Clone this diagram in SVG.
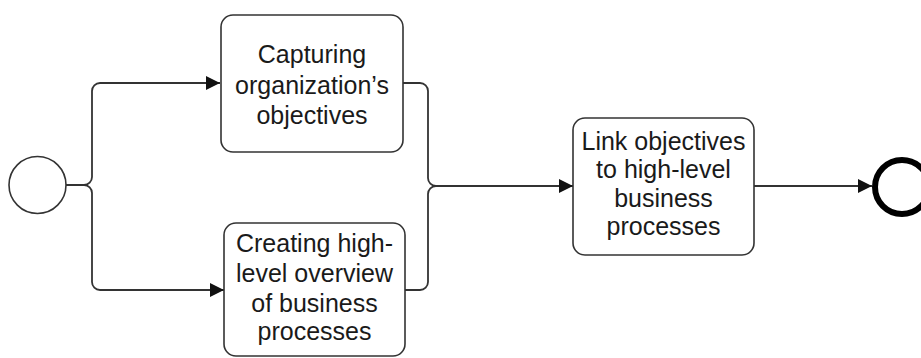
<svg xmlns="http://www.w3.org/2000/svg" width="921" height="358" viewBox="0 0 921 358">
  <style>
    .task { fill: #ffffff; stroke: #333333; stroke-width: 1.6; }
    .label { font-family: "Liberation Sans", Arial, sans-serif; font-size: 25px; fill: #1a1a1a; text-anchor: middle; }
    .flow { fill: none; stroke: #333333; stroke-width: 1.8; }
  </style>
  <defs>
    <marker id="arrow" markerUnits="userSpaceOnUse" markerWidth="16" markerHeight="16" refX="14" refY="7" orient="auto">
      <path d="M0,0 L14,7 L0,14 Z" fill="#111111"/>
    </marker>
  </defs>

  <rect width="921" height="358" fill="#ffffff"/>

  <!-- sequence flows -->
  <g id="connectors">
    <path class="flow" d="M66,185 H84 A8,8 0 0 0 92,177 V91 A8,8 0 0 1 100,83 H220" marker-end="url(#arrow)"/>
    <path class="flow" d="M84,185 A8,8 0 0 1 92,193 V282 A8,8 0 0 0 100,290 H224" marker-end="url(#arrow)"/>
    <path class="flow" d="M403,83 H420 A8,8 0 0 1 428,91 V178 A8,8 0 0 0 436,186 H573" marker-end="url(#arrow)"/>
    <path class="flow" d="M405,290 H420 A8,8 0 0 0 428,282 V194 A8,8 0 0 1 436,186"/>
    <path class="flow" d="M754,186 H872" marker-end="url(#arrow)"/>
  </g>

  <!-- start event -->
  <g id="start">
    <circle cx="37.5" cy="185" r="28.5" fill="#ffffff" stroke="#333333" stroke-width="1.6"/>
  </g>

  <!-- tasks -->
  <g id="capture-objectives">
    <rect class="task" x="221" y="15" width="182" height="137" rx="12" ry="12"/>
    <text class="label" x="312" y="63">Capturing</text>
    <text class="label" x="312" y="94">organization’s</text>
    <text class="label" x="312" y="124">objectives</text>
  </g>

  <g id="process-overview">
    <rect class="task" x="224" y="223" width="181" height="133" rx="12" ry="12"/>
    <text class="label" x="314.5" y="252">Creating high-</text>
    <text class="label" x="314.5" y="282">level overview</text>
    <text class="label" x="314.5" y="311.5">of business</text>
    <text class="label" x="314.5" y="340">processes</text>
  </g>

  <g id="link-objectives">
    <rect class="task" x="573" y="118" width="181" height="137" rx="12" ry="12"/>
    <text class="label" x="663.5" y="150">Link objectives</text>
    <text class="label" x="663.5" y="178">to high-level</text>
    <text class="label" x="663.5" y="207">business</text>
    <text class="label" x="663.5" y="235">processes</text>
  </g>

  <!-- end event -->
  <g id="end">
    <circle cx="902" cy="187" r="27" fill="#ffffff" stroke="#000000" stroke-width="6"/>
  </g>
</svg>
